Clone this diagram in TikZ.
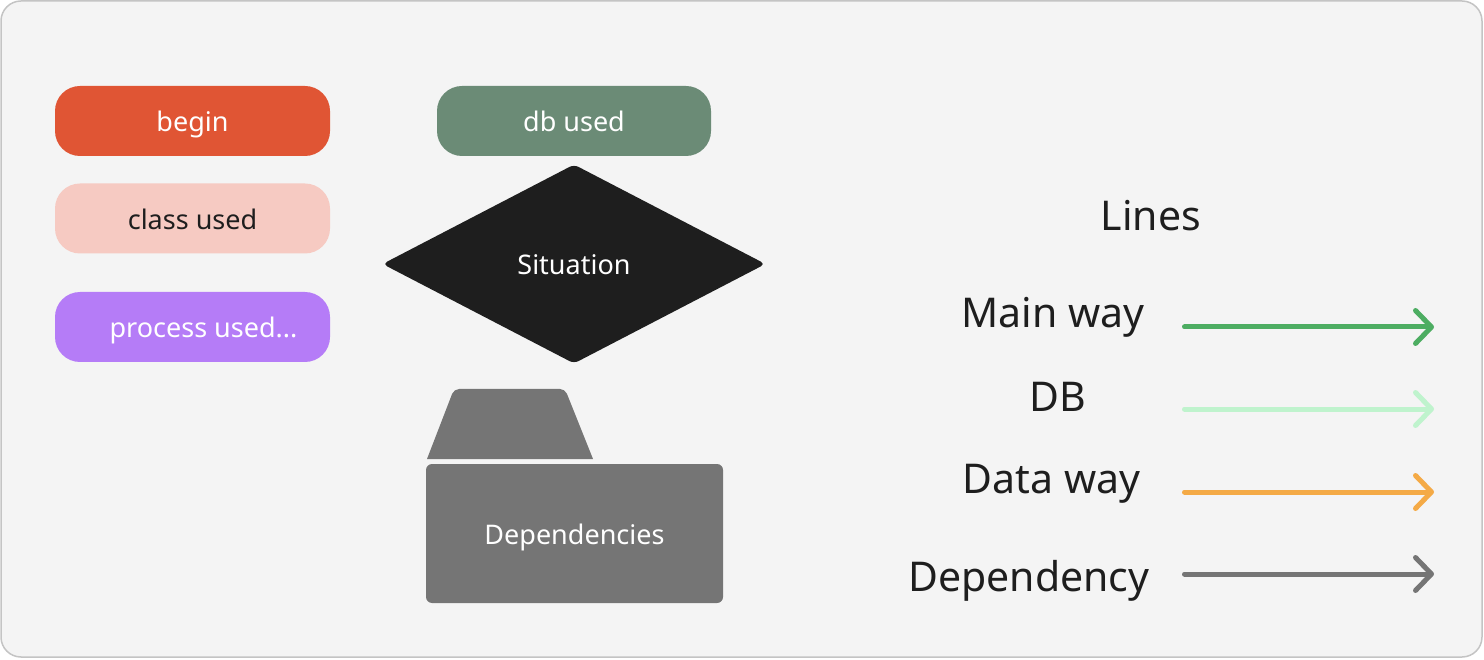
\documentclass[tikz,border=0pt]{standalone}
\usepackage{fontspec}
\setmainfont{Noto Sans}
\usetikzlibrary{arrows.meta, shapes.geometric}

\definecolor{framefill}{HTML}{F4F4F4}
\definecolor{framedraw}{HTML}{C4C4C4}
\definecolor{beginred}{HTML}{E05534}
\definecolor{classpink}{HTML}{F6CAC2}
\definecolor{processviolet}{HTML}{B57CF7}
\definecolor{dbgreen}{HTML}{6B8B76}
\definecolor{situationblack}{HTML}{1E1E1E}
\definecolor{foldergrey}{HTML}{757575}
\definecolor{maingreen}{HTML}{4DAD62}
\definecolor{dblight}{HTML}{BFF3CD}
\definecolor{dataorange}{HTML}{F4AA46}
\definecolor{textdark}{HTML}{1E1E1E}

\begin{document}
\begin{tikzpicture}[x=1pt, y=-1pt,
	box/.style={rounded corners=25pt, minimum width=275pt, minimum height=70pt, inner sep=0pt, text height=22pt, text depth=0pt, font=\fontsize{27}{32}\selectfont},
	legend/.style={anchor=base, text=textdark, font=\fontsize{41}{49}\selectfont},
	line/.style={line width=5pt, line cap=round, -{Straight Barb[length=16pt, width=33pt, round]}}]
		\useasboundingbox (0, 0) rectangle (1484, 660);
		\draw[framedraw, fill=framefill, line width=1.5pt, rounded corners=20pt] (1, 1) rectangle (1482, 657);
		
		\node[box, fill=beginred, text=white] (1) at (192.5, 121) {begin};
		\node[box, fill=classpink, text=textdark] (2) at (192.5, 218.5) {class used};
		\node[box, fill=processviolet, text=white] (3) at (192.5, 327) {\hspace*{22pt}process used...};
		
		\node[box, fill=dbgreen, text=white, minimum width=274pt] (4) at (574, 121) {db used};
		\node[diamond, fill=situationblack, text=white, rounded corners=5pt, inner sep=0pt, minimum width=383pt, minimum height=199pt, text height=22pt, text depth=0pt, font=\fontsize{27}{32}\selectfont] (5) at (574, 264) {Situation};
		
		\fill[foldergrey] (427, 459) [rounded corners=5pt] -- (454, 389) -- (565, 389) [sharp corners] -- (593, 459) -- cycle;
		\node[fill=foldergrey, text=white, rounded corners=6pt, inner sep=0pt, minimum width=297pt, minimum height=139pt, text height=21pt, text depth=0pt, font=\fontsize{27}{32}\selectfont] (6) at (574.5, 533.5) {Dependencies};
		
		\node[legend] (l0) at (1151, 231) {Lines};
		\node[legend] (l1) at (1053, 328) {Main way};
		\node[legend] (l2) at (1057.5, 411) {DB};
		\node[legend] (l3) at (1051.5, 493) {Data way};
		\node[legend] (l4) at (1029, 591) {Dependency};
		
		\coordinate (s1) at (1184.5, 327); \coordinate (e1) at (1434, 327);
		\coordinate (s2) at (1184.5, 409); \coordinate (e2) at (1434, 409);
		\coordinate (s3) at (1184.5, 492); \coordinate (e3) at (1434, 492);
		\coordinate (s4) at (1184.5, 574); \coordinate (e4) at (1434, 574);
		\draw[line, maingreen] (s1) -- (e1);
		\draw[line, dblight] (s2) -- (e2);
		\draw[line, dataorange] (s3) -- (e3);
		\draw[line, foldergrey] (s4) -- (e4);
	\end{tikzpicture}
\end{document}
